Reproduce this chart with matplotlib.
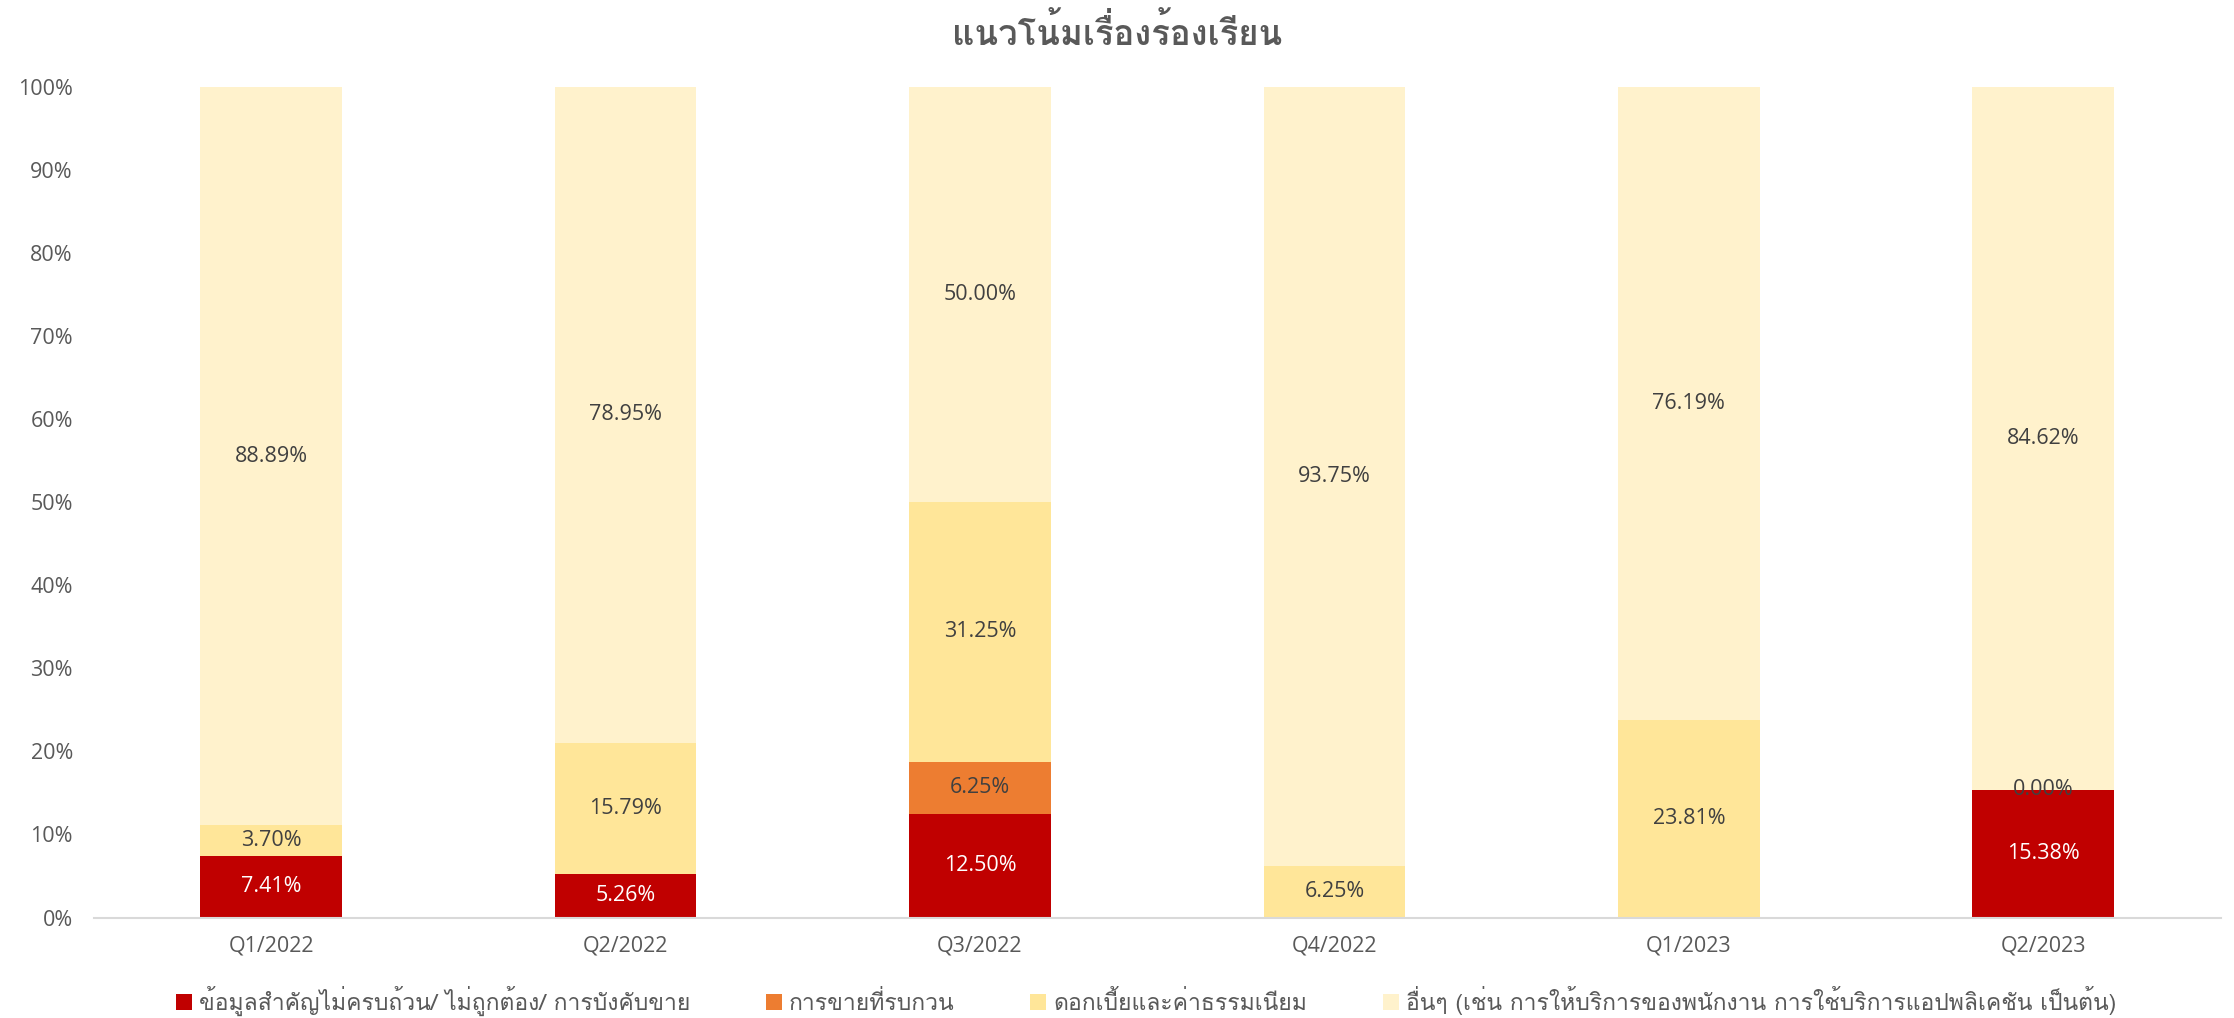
import numpy as np
import matplotlib
matplotlib.use("Agg")
import matplotlib.pyplot as plt
from matplotlib import font_manager
from matplotlib.ft2font import FT2Font

quarters = ["Q1/2022", "Q2/2022", "Q3/2022", "Q4/2022", "Q1/2023", "Q2/2023"]
series_names = [
    "ข้อมูลสำคัญไม่ครบถ้วน/ ไม่ถูกต้อง/ การบังคับขาย",
    "การขายที่รบกวน",
    "ดอกเบี้ยและค่าธรรมเนียม",
    "อื่นๆ (เช่น การให้บริการของพนักงาน การใช้บริการแอปพลิเคชัน เป็นต้น)",
]
nan = np.nan
info_missing = [7.41, 5.26, 12.50, nan, nan, 15.38]
intrusive_sales = [nan, nan, 6.25, nan, nan, 0.00]
interest_fees = [3.70, 15.79, 31.25, 6.25, 23.81, nan]
others = [88.89, 78.95, 50.00, 93.75, 76.19, 84.62]
title = "แนวโน้มเรื่องร้องเรียน"

colors = ["#C00000", "#ED7D31", "#FFE699", "#FFF2CC"]
label_colors = ["white", "#404040", "#404040", "#404040"]

# find a font with Thai glyphs
thai_font = None
for fe in font_manager.fontManager.ttflist:
    try:
        cm = FT2Font(fe.fname).get_charmap()
        if ord("ก") in cm and ord("%") in cm:
            thai_font = fe.name
            if "Sans" in fe.name or "Loma" in fe.name or "Garuda" in fe.name:
                break
    except Exception:
        pass
families = ["DejaVu Sans"]
if thai_font:
    families = [thai_font, "DejaVu Sans"]
plt.rcParams["font.family"] = families

fig = plt.figure(figsize=(22.34, 10.18), dpi=100)
ax = fig.add_axes([0.042, 0.0987, 0.952, 0.816])

series = [info_missing, intrusive_sales, interest_fees, others]
x = np.arange(len(quarters))
bottom = np.zeros(len(quarters))
num_fam = ["Open Sans", "DejaVu Sans"]
for vals, name, col, lc in zip(series, series_names, colors, label_colors):
    v = np.array(vals, dtype=float)
    h = np.nan_to_num(v)
    ax.bar(x, h, 0.4, bottom=bottom, color=col, label=name, edgecolor="none")
    for i in range(len(x)):
        if not np.isnan(v[i]):
            ax.text(x[i], bottom[i] + h[i] / 2, f"{v[i]:.2f}%", ha="center", va="center",
                    fontsize=15.5, color=lc, family=num_fam)
    bottom = bottom + h

ax.set_xlim(-0.5, len(quarters) - 0.5)
ax.set_ylim(0, 100)
ax.set_yticks(np.arange(0, 101, 10))
ax.set_yticklabels([f"{t}%" for t in range(0, 101, 10)], family=num_fam)
ax.set_xticks(x)
ax.set_xticklabels(quarters, family=num_fam)
ax.tick_params(axis="both", length=0, labelsize=15.5, colors="#595959")
ax.tick_params(axis="y", pad=15)
ax.tick_params(axis="x", pad=13)
for s in ["top", "right", "left"]:
    ax.spines[s].set_visible(False)
ax.spines["bottom"].set_color("#D9D9D9")
ax.spines["bottom"].set_linewidth(1.5)

fig.text(0.5, 0.969, title, ha="center", va="center", fontsize=25, color="#595959", fontweight="bold")

leg = fig.legend(loc="center", bbox_to_anchor=(0.513, 0.017), ncol=4, frameon=False,
                 fontsize=16.5, handlelength=0.7, handleheight=0.7, handletextpad=0.3,
                 columnspacing=3.3)
for t in leg.get_texts():
    t.set_color("#595959")

fig.savefig("out.png", dpi=100)
